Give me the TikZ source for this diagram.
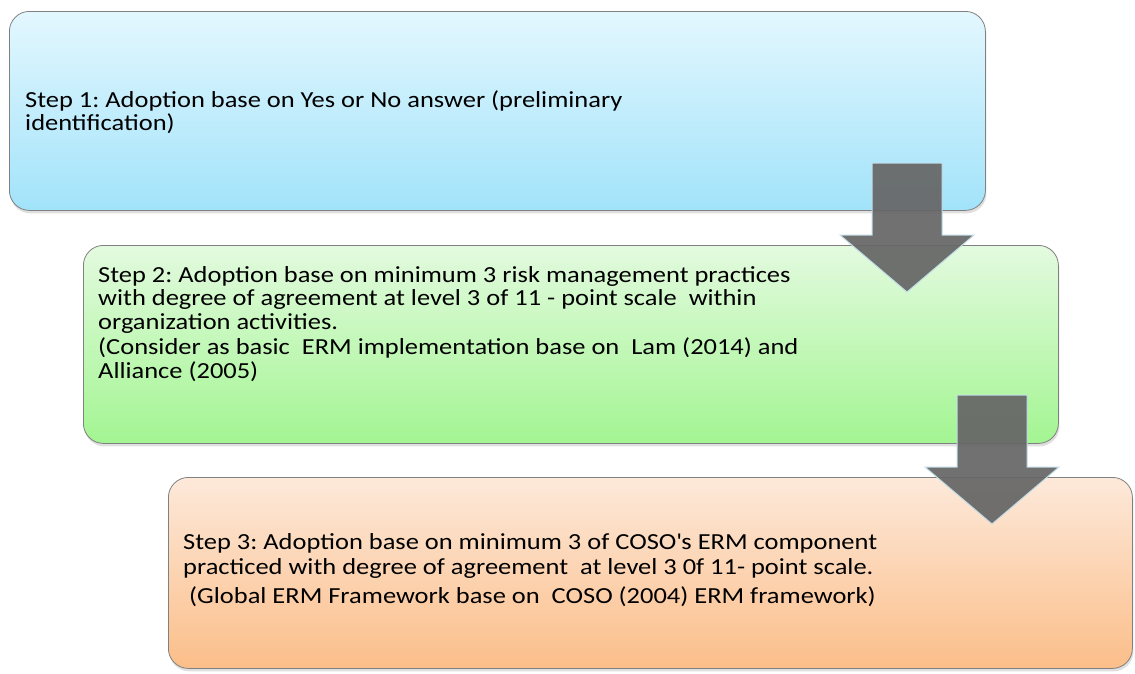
\documentclass[tikz,border=0pt]{standalone}
\usepackage{fontspec}
\setmainfont[FakeStretch=1.15]{Carlito}
\usetikzlibrary{shadows}

\definecolor{oneTop}{HTML}{E3F7FE}
\definecolor{oneBot}{HTML}{A2E3FA}
\definecolor{twoTop}{HTML}{E3FADF}
\definecolor{twoBot}{HTML}{A3F592}
\definecolor{threeTop}{HTML}{FDE9DA}
\definecolor{threeBot}{HTML}{FBBE89}
\definecolor{arrowEdge}{HTML}{C2DDE8}

\begin{document}
\frenchspacing
\begin{tikzpicture}[x=1pt,y=-1pt,
    stepbox/.style={draw=black!50, line width=0.8pt, rounded corners=20pt,
        anchor=north west, inner sep=0pt,
        drop shadow={opacity=0.25, shadow xshift=1pt, shadow yshift=-3pt}},
    steptext/.style={anchor=north west, align=left, inner sep=0pt,
        font=\fontsize{23}{23.5}\selectfont},
    blockarrow/.style={fill=black!60, fill opacity=0.93, draw=arrowEdge, line width=1pt}]

    \useasboundingbox (0,0) rectangle (1135,673);

    % Блоки
    \foreach \n/\x/\y/\w/\h/\c in {
        1/9/11/976/199/one,
        2/83/245/975/198/two,
        3/168/477/964/191/three}
    {
        \node[stepbox, minimum width=\w pt, minimum height=\h pt,
            top color=\c Top, bottom color=\c Bot] (box\n) at (\x,\y) {};
    }

    % Тексты
    \node[steptext] (text1) at (25,90)
        {Step 1: Adoption base on Yes or No answer (preliminary\\
         identification)};
    \node[steptext] (text2) at (98,266)
        {Step 2: Adoption base on minimum 3 risk management practices\\
         with degree of agreement at level 3 of 11 - point scale \ within\\
         organization activities.\\[2pt]
         (Consider as basic \ ERM implementation base on \ Lam (2014) and\\
         Alliance (2005)};
    \node[steptext, font=\fontsize{23}{25}\selectfont] (text3) at (183,533)
        {Step 3: Adoption base on minimum 3 of COSO\textquotesingle s ERM component\\
         practiced with degree of agreement \ at level 3 0f 11- point scale.\\[4pt]
         \hspace{6pt}(Global ERM Framework base on \ COSO (2004) ERM framework)};

    % Стрелки
    \foreach \ax/\ay in {907/163, 992/395}
    {
        \coordinate (top) at (\ax,\ay);
        \draw[blockarrow] (top) ++(-35,0) -- ++(0,72) -- ++(-32,0)
            -- ++(67,57) -- ++(67,-57) -- ++(-32,0) -- ++(0,-72) -- cycle;
    }
\end{tikzpicture}
\end{document}
